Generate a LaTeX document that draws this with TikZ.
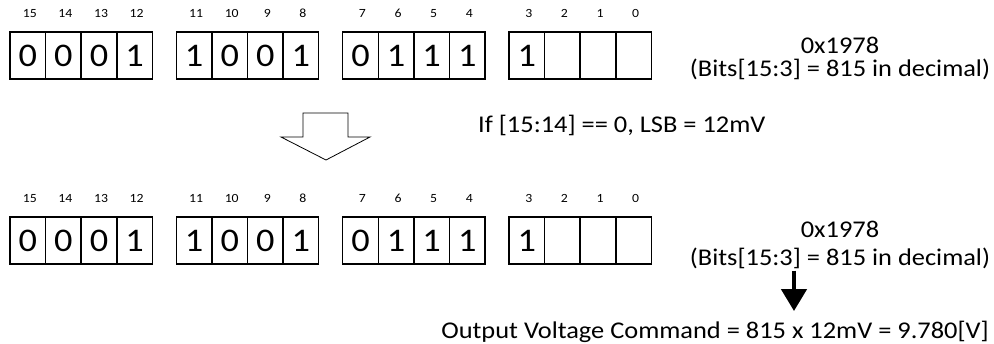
\documentclass[tikz,border=0pt]{standalone}
\usepackage{fontspec}
\setmainfont{Carlito}
\usepackage{graphicx}
\usetikzlibrary{arrows.meta}
\newcommand{\hs}[1]{\scalebox{1.1}[1]{#1}}
\tikzset{
  cell/.style={draw, line width=1.5pt, minimum width=35.6pt, minimum height=47pt, inner sep=0pt, font=\fontsize{33}{33}\selectfont},
  bitnum/.style={font=\fontsize{12.5}{12.5}\selectfont, inner sep=0pt, anchor=base},
  txt/.style={font=\fontsize{24}{24}\selectfont, inner sep=0pt},
  hollow/.style={draw, line width=0.8pt, fill=white},
  solidarrow/.style={line width=4.5pt, -{Triangle[width=25pt,length=22pt]}},
}
\begin{document}
\begin{tikzpicture}[x=1pt,y=-1pt]
\useasboundingbox (0,0) rectangle (994,343);
\fill[white] (0,0) rectangle (994,343);
\foreach \row/\y/\ly in {t/55.5/17.5, b/240.5/202.5} {
  \foreach \bit/\val [count=\i from 0] in {15/0,14/0,13/0,12/1,11/1,10/0,9/0,8/1,7/0,6/1,5/1,4/1,3/1,2/,1/,0/} {
    \pgfmathtruncatemacro\g{\i/4}
    \pgfmathtruncatemacro\c{mod(\i,4)}
    \pgfmathsetmacro\x{10+166.33*\g+35.6*(\c+0.5)}
    \node[cell] (\row\bit) at (\x,\y) {\hs{\val}};
    \node[bitnum] (l\row\bit) at (\x+2,\ly) {\hs{\bit}};
  }
}
\node[txt] (hexA) at (840,45) {\hs{0x1978}};
\node[txt] (decA) at (840,69) {\hs{(Bits[15:3] = 815 in decimal)}};
\node[txt, anchor=west] (cond) at (478,125) {\hs{If [15:14] == 0, LSB = 12mV}};
\node[txt] (hexB) at (840,229) {\hs{0x1978}};
\node[txt] (decB) at (840,258) {\hs{(Bits[15:3] = 815 in decimal)}};
\node[txt, anchor=east] (out) at (989,332) {\hs{Output Voltage Command = 815 x 12mV = 9.780[V]}};
\draw[hollow] (303,113) -- (348,113) -- (348,137) -- (370,137) -- (326,160) -- (281,137) -- (303,137) -- cycle;
\coordinate (ax) at (794,0);
\draw[solidarrow] ([yshift=-2pt]decB.south -| ax) -- ([yshift=10pt]out.north -| ax);
\end{tikzpicture}
\end{document}
